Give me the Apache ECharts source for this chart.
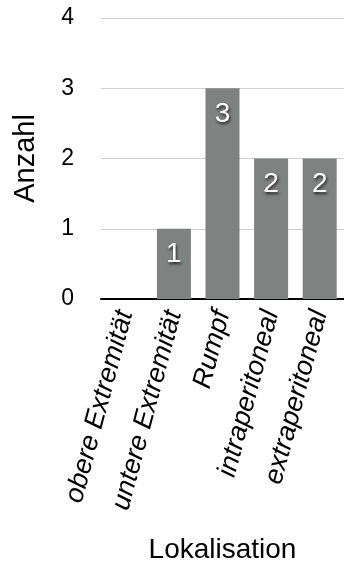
<!DOCTYPE html>
<html>
<head>
<meta charset="utf-8">
<script src="https://cdn.jsdelivr.net/npm/echarts@6/dist/echarts.min.js"></script>
<style>html,body{margin:0;padding:0;background:#fff;}#c{width:344px;height:566px;}</style>
</head>
<body>
<div id="c"></div>
<script>
const categories = ['obere Extremität', 'untere Extremität', 'Rumpf', 'intraperitoneal', 'extraperitoneal'];
const values = [0, 1, 3, 2, 2];
const yTicks = [0, 1, 2, 3, 4];
const yAxisTitle = 'Anzahl';
const xAxisTitle = 'Lokalisation';

const FONT = '"Liberation Sans", Arial, Helvetica, sans-serif';
const chart = echarts.init(document.getElementById('c'), null, {renderer: 'canvas'});
chart.setOption({
  animation: false,
  backgroundColor: '#ffffff',
  grid: {left: 101, top: 18, width: 251, height: 281, containLabel: false},
  xAxis: {
    type: 'category',
    data: categories,
    name: xAxisTitle,
    nameLocation: 'middle',
    nameGap: 237,
    nameTextStyle: {fontFamily: FONT, fontSize: 28, color: '#000'},
    axisLine: {show: true, lineStyle: {color: '#000', width: 2}},
    axisTick: {show: false},
    axisLabel: {rotate: 75, interval: 0, margin: 12, fontFamily: FONT, fontSize: 27, fontStyle: 'italic', color: '#000'},
    splitLine: {show: false}
  },
  yAxis: {
    type: 'value',
    min: yTicks[0],
    max: yTicks[yTicks.length - 1],
    interval: 1,
    name: yAxisTitle,
    nameLocation: 'middle',
    nameGap: 61,
    nameRotate: 90,
    nameTextStyle: {fontFamily: FONT, fontSize: 29, color: '#000'},
    axisLine: {show: false},
    axisTick: {show: false},
    axisLabel: {margin: 27, fontFamily: FONT, fontSize: 23, color: '#000'},
    splitLine: {show: true, lineStyle: {color: '#cfcfcf', width: 1}}
  },
  series: [{
    type: 'bar',
    data: values,
    barCategoryGap: '30%',
    itemStyle: {color: '#7e8381'},
    label: {
      show: true,
      position: 'insideTop',
      distance: 12,
      fontFamily: FONT,
      fontSize: 28,
      color: '#ffffff',
      textShadowColor: 'rgba(0,0,0,0.75)',
      textShadowBlur: 3,
      textShadowOffsetX: 1,
      textShadowOffsetY: 2,
      formatter: p => p.value > 0 ? String(p.value) : ''
    }
  }]
});
</script>
</body>
</html>
